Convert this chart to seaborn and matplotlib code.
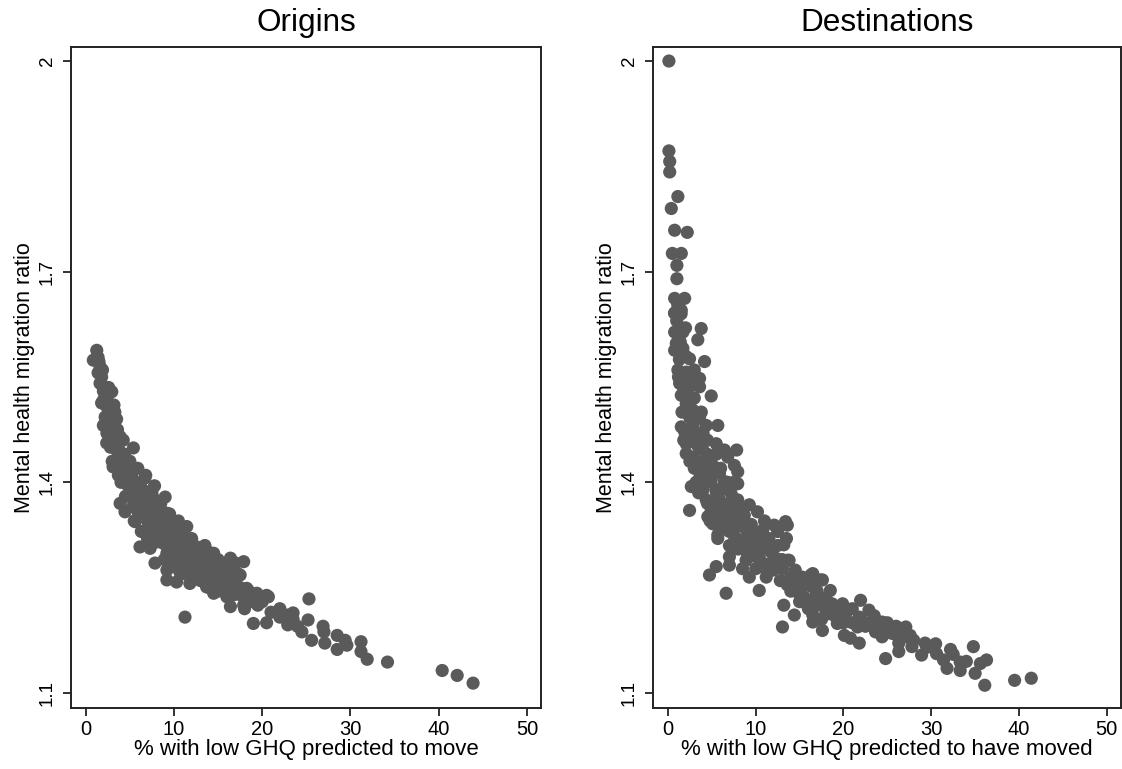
import matplotlib
matplotlib.use("Agg")
import matplotlib.pyplot as plt
import seaborn as sns
import pandas as pd

# ---------------- data ----------------
orig_x = [1.25, 0.86, 1.4, 1.62, 1.4, 1.62, 1.97, 2.95, 2.0, 1.8, 2.38, 3.3, 2.2, 2.75, 2.0, 3.1,
          2.75, 3.9, 2.38, 3.1, 4.25, 5.4, 3.5, 3.9, 3.1, 4.65, 5.9, 4.25, 5.0, 6.7, 4.65, 5.8,
          5.0, 6.5, 9.0, 7.85, 3.9, 5.6, 4.45, 5.9, 7.1, 8.4, 9.2, 5.6, 6.9, 8.05, 9.55, 11.45,
          6.5, 7.5, 9.0, 10.3, 11.0, 6.15, 7.3, 8.8, 9.9, 11.45, 12.6, 13.7, 9.2, 10.7, 12.2, 14.5,
          16.4, 17.9, 7.85, 9.55, 11.0, 12.95, 15.2, 16.7, 9.2, 10.7, 12.6, 14.5, 16.0, 17.5, 9.2,
          10.3, 11.8, 13.7, 15.2, 16.7, 18.25, 14.5, 16.0, 17.9, 20.7, 16.4, 17.9, 11.25,
          19.4, 20.5, 19.0, 20.5, 25.3, 22.0, 22.8, 23.5, 22.9, 25.2, 24.5, 25.6, 26.9, 27.0,
          27.1, 28.5, 29.4, 29.6, 28.5, 31.2, 31.2, 31.9, 34.2, 40.4, 42.1, 43.9,
          1.5, 1.8, 2.2, 2.5, 2.6, 3.0, 3.3, 3.6, 3.4, 3.8, 4.0, 4.4, 4.2, 4.8, 5.2, 5.5, 4.8,
          6.2, 6.0, 6.8, 6.5, 7.2, 7.5, 8.0, 8.5, 7.0, 9.0, 9.8, 8.3, 10.0, 10.5, 9.5, 11.3,
          12.0, 11.0, 13.0, 12.5, 13.5, 14.0, 14.8, 15.5, 16.5, 13.2, 14.2, 15.8, 17.0, 17.5,
          16.8, 18.5, 19.0, 18.0, 8.9, 10.0, 11.5, 6.0, 5.3, 7.8, 5.0, 3.5, 2.0,
          6.3, 7.0, 7.7, 8.2, 8.7, 9.3, 9.7, 10.2, 10.8, 11.5, 12.3, 13.0, 13.8, 14.5, 15.0,
          15.8, 16.2, 17.2, 12.0, 13.0, 14.0, 15.0, 16.0, 17.5, 18.5, 11.0, 10.5, 9.5, 8.0,
          7.0, 6.3, 5.5, 5.8, 4.5, 4.0, 3.7, 3.0, 2.8, 2.4, 3.2, 2.6, 1.9, 6.8, 7.5, 8.5, 9.5,
          10.5, 12.0, 13.5, 15.0, 16.0, 17.0, 19.5, 21.0, 20.0, 22.0, 23.5, 24.0]
orig_y = [1.588, 1.574, 1.578, 1.565, 1.556, 1.541, 1.536, 1.529, 1.517, 1.513, 1.508, 1.500,
          1.493, 1.489, 1.481, 1.481, 1.474, 1.465, 1.456, 1.456, 1.460, 1.449, 1.446, 1.436,
          1.422, 1.427, 1.420, 1.413, 1.408, 1.406, 1.399, 1.394, 1.385, 1.389, 1.379, 1.375,
          1.370, 1.375, 1.358, 1.360, 1.365, 1.367, 1.356, 1.344, 1.349, 1.342, 1.344, 1.337,
          1.330, 1.332, 1.328, 1.330, 1.328, 1.308, 1.306, 1.313, 1.313, 1.313, 1.308, 1.303,
          1.299, 1.299, 1.296, 1.299, 1.292, 1.287, 1.285, 1.289, 1.285, 1.285, 1.285, 1.280,
          1.275, 1.271, 1.271, 1.271, 1.271, 1.268, 1.261, 1.258, 1.256, 1.251, 1.251, 1.251,
          1.249, 1.242, 1.237, 1.242, 1.237, 1.223, 1.225, 1.208,
          1.242, 1.239, 1.199, 1.200, 1.234, 1.208, 1.211, 1.214, 1.197, 1.204, 1.187, 1.175,
          1.195, 1.187, 1.171, 1.182, 1.175, 1.168, 1.162, 1.173, 1.159, 1.148, 1.144, 1.132,
          1.125, 1.114,
          1.572, 1.550, 1.525, 1.515, 1.500, 1.490, 1.470, 1.475, 1.450, 1.445, 1.430, 1.440,
          1.420, 1.420, 1.410, 1.395, 1.395, 1.400, 1.385, 1.380, 1.370, 1.375, 1.360, 1.355,
          1.350, 1.345, 1.340, 1.335, 1.325, 1.320, 1.315, 1.305, 1.305, 1.300, 1.295, 1.295,
          1.280, 1.280, 1.290, 1.275, 1.265, 1.265, 1.265, 1.260, 1.255, 1.260, 1.250, 1.240,
          1.235, 1.230, 1.220, 1.290, 1.280, 1.275, 1.355, 1.365, 1.395, 1.430, 1.490, 1.530,
          1.375, 1.360, 1.350, 1.340, 1.335, 1.325, 1.315, 1.305, 1.310, 1.290, 1.290, 1.285,
          1.275, 1.280, 1.270, 1.275, 1.260, 1.270, 1.265, 1.260, 1.250, 1.245, 1.250, 1.240,
          1.245, 1.270, 1.290, 1.290, 1.315, 1.320, 1.330, 1.345, 1.370, 1.380, 1.400, 1.410,
          1.430, 1.450, 1.470, 1.510, 1.535, 1.560, 1.410, 1.385, 1.370, 1.355, 1.345, 1.320,
          1.310, 1.290, 1.285, 1.285, 1.225, 1.215, 1.230, 1.220, 1.205, 1.195]

dest_x = [0.11, 0.11, 0.2, 0.2, 1.13, 0.38, 0.76, 2.2, 0.5, 1.52, 1.02, 1.02, 0.76, 1.9, 1.13,
          0.76, 1.52, 1.13, 0.76, 0.76, 1.7, 3.79, 3.4, 0.95, 0.76, 1.7, 2.46, 4.17, 1.13, 2.08,
          3.6, 1.33, 2.46, 3.6, 4.93, 1.52, 2.66, 2.08, 2.84, 2.46, 3.6, 1.52, 2.84, 4.36, 5.68,
          1.9, 3.4, 2.08, 3.22, 5.5, 3.97, 6.44, 7.83, 2.08, 2.84, 6.81, 3.22, 5.1, 7.57, 4.17,
          5.87, 7.95, 3.6, 4.93, 6.44, 7.95, 2.66, 3.97, 5.5, 7.2, 4.36, 5.87, 7.95, 9.27, 2.46,
          4.93, 6.63, 10.2, 4.54, 6.06, 7.38, 8.7, 12.1, 13.4, 5.1, 7.0, 8.5, 5.68, 7.0, 9.27,
          10.8, 5.68, 8.14, 10.0, 11.5, 7.38, 9.27, 11.0, 13.2, 7.0, 8.9, 10.4, 12.3, 13.8, 5.5,
          7.0, 8.5, 10.0, 11.5, 13.05, 4.73, 9.27, 11.2, 13.8, 15.3, 16.5, 17.6, 18.5, 6.63,
          10.4, 14.6, 16.1,
          13.6, 13.6, 14.9, 16.3, 17.4, 13.6, 15.1, 16.5, 15.5, 16.8, 13.2, 15.9, 17.6, 18.7,
          19.9, 21.95, 22.9, 14.4, 16.5, 18.35, 20.25, 21.8, 13.05, 16.5, 17.6, 19.3, 21.6, 24.4,
          23.65, 25.2, 27.1, 24.4, 26.1, 20.1, 20.8, 21.8, 27.6, 26.3, 27.8, 29.3, 26.3, 24.8,
          28.9, 30.6, 32.2, 34.8, 31.4, 33.3, 31.8, 33.3, 35.6, 36.3, 35.0, 36.1, 39.5, 41.4,
          1.0, 1.4, 2.0, 1.3, 2.5, 1.8, 3.0, 2.2, 3.2, 4.0, 2.6, 3.5, 4.5, 3.0, 4.0, 5.0, 4.4,
          5.5, 6.2, 3.5, 5.0, 6.0, 7.0, 4.8, 6.5, 8.0, 9.5, 7.5, 8.8, 10.5, 9.0, 11.8, 12.5,
          10.8, 12.0, 14.5, 12.8, 15.0, 17.0, 16.0, 18.0, 19.0, 21.0, 22.5, 23.0, 25.5, 20.0,
          1.5, 2.0, 1.2, 2.0, 2.8, 3.0, 1.6, 2.6, 3.8, 1.8, 3.0, 4.5, 2.5, 4.8, 5.5, 6.0, 3.2,
          4.0, 6.8, 7.5, 4.5, 5.5, 6.8, 7.5, 8.5, 5.8, 7.0, 8.0, 9.0, 10.0, 11.0, 11.5, 9.8,
          10.5, 11.8, 13.0, 14.0, 15.5, 16.5, 14.0, 15.0, 17.0, 18.0, 17.5, 19.0, 20.0, 21.0,
          22.0, 23.5, 24.0, 25.0, 26.0, 27.0, 28.0, 29.5, 30.5, 32.5, 34.0, 12.5, 13.5, 11.0]
dest_y = [2.000, 1.872, 1.857, 1.842, 1.807, 1.790, 1.759, 1.756, 1.726, 1.726, 1.709, 1.690,
          1.662, 1.662, 1.652, 1.641, 1.645, 1.655, 1.641, 1.614, 1.614, 1.619, 1.603, 1.598,
          1.588, 1.591, 1.576, 1.572, 1.560, 1.557, 1.548, 1.541, 1.536, 1.536, 1.523, 1.524,
          1.520, 1.512, 1.503, 1.493, 1.493, 1.479, 1.481, 1.481, 1.481, 1.472, 1.470, 1.455,
          1.455, 1.455, 1.446, 1.446, 1.446, 1.441, 1.436, 1.436, 1.427, 1.424, 1.424, 1.417,
          1.413, 1.415, 1.406, 1.403, 1.401, 1.398, 1.394, 1.389, 1.386, 1.384, 1.375, 1.375,
          1.375, 1.368, 1.360, 1.360, 1.363, 1.358, 1.351, 1.351, 1.351, 1.353, 1.339, 1.344,
          1.341, 1.339, 1.337, 1.325, 1.330, 1.327, 1.332, 1.320, 1.318, 1.315, 1.320, 1.306,
          1.306, 1.306, 1.311, 1.294, 1.289, 1.294, 1.292, 1.289, 1.280, 1.282, 1.277, 1.277,
          1.280, 1.277, 1.268, 1.265, 1.265, 1.261, 1.265, 1.270, 1.261, 1.246, 1.242, 1.246,
          1.251, 1.254,
          1.339, 1.289, 1.263, 1.268, 1.261, 1.254, 1.249, 1.251, 1.237, 1.237, 1.225, 1.225,
          1.227, 1.227, 1.227, 1.232, 1.218, 1.211, 1.211, 1.213, 1.213, 1.208, 1.194, 1.201,
          1.189, 1.199, 1.194, 1.201, 1.187, 1.192, 1.194, 1.180, 1.182, 1.182, 1.178, 1.171,
          1.182, 1.171, 1.166, 1.171, 1.159, 1.149, 1.154, 1.156, 1.162, 1.166, 1.147, 1.144,
          1.135, 1.132, 1.142, 1.147, 1.128, 1.111, 1.118, 1.121,
          1.630, 1.600, 1.580, 1.575, 1.550, 1.530, 1.520, 1.500, 1.490, 1.470, 1.460, 1.450,
          1.440, 1.420, 1.430, 1.410, 1.400, 1.390, 1.390, 1.385, 1.370, 1.360, 1.370, 1.345,
          1.345, 1.340, 1.340, 1.325, 1.320, 1.310, 1.300, 1.300, 1.310, 1.285, 1.275, 1.275,
          1.260, 1.240, 1.245, 1.220, 1.215, 1.210, 1.200, 1.195, 1.200, 1.185, 1.200,
          1.640, 1.620, 1.550, 1.545, 1.540, 1.560, 1.500, 1.495, 1.500, 1.460, 1.465, 1.460,
          1.430, 1.430, 1.440, 1.420, 1.400, 1.390, 1.400, 1.400, 1.370, 1.355, 1.355, 1.365,
          1.360, 1.335, 1.310, 1.305, 1.315, 1.325, 1.320, 1.310, 1.295, 1.280, 1.285, 1.290,
          1.265, 1.255, 1.260, 1.245, 1.230, 1.225, 1.235, 1.205, 1.220, 1.215, 1.220, 1.205,
          1.210, 1.190, 1.200, 1.195, 1.180, 1.175, 1.165, 1.170, 1.155, 1.145, 1.330, 1.320,
          1.345]

panel_titles = ["Origins", "Destinations"]
x_labels = ["% with low GHQ predicted to move", "% with low GHQ predicted to have moved"]
y_label = "Mental health migration ratio"
x_ticks = [0, 10, 20, 30, 40, 50]
y_ticks = [1.1, 1.4, 1.7, 2.0]
y_tick_labels = ["1.1", "1.4", "1.7", "2"]

# ---------------- plotting ----------------
sns.set_theme(style="white")
plt.rcParams["font.family"] = ["Liberation Sans", "DejaVu Sans"]

W, H = 1122, 769
fig = plt.figure(figsize=(W / 100, H / 100), dpi=100)
fig.patch.set_facecolor("white")

ax_boxes = [
    [71 / W, (H - 708) / H, 470 / W, 661.3 / H],
    [653.3 / W, (H - 708) / H, 467.5 / W, 661.3 / H],
]
datasets = [(orig_x, orig_y), (dest_x, dest_y)]
dot_color = "#5a5a5a"

for i, ((xs, ys), box) in enumerate(zip(datasets, ax_boxes)):
    ax = fig.add_axes(box)
    df = pd.DataFrame({"x": xs, "y": ys})
    sns.scatterplot(data=df, x="x", y="y", ax=ax, color=dot_color, s=90,
                    edgecolor="none", linewidth=0, alpha=1)
    ax.set_xlim(-1.67, 51.6)
    ax.set_ylim(1.0786, 2.0204)
    ax.set_xticks(x_ticks)
    ax.set_xticklabels([str(t) for t in x_ticks], fontsize=14.5)
    ax.set_yticks(y_ticks)
    ax.set_yticklabels(y_tick_labels, fontsize=13.5, rotation=90, va="center")
    ax.tick_params(axis="both", direction="out", length=6, width=1.3, color="#222222",
                   labelcolor="black", bottom=True, left=True)
    ax.tick_params(axis="x", pad=2.5)
    ax.tick_params(axis="y", pad=5)
    for sp in ax.spines.values():
        sp.set_color("#222222")
        sp.set_linewidth(1.4)
        sp.set_visible(True)
    ax.set_xlabel(x_labels[i], fontsize=16, labelpad=0.5, color="black")
    ax.set_ylabel(y_label, fontsize=15.5, labelpad=3, color="black")
    ax.set_title(panel_titles[i], fontsize=22.7, pad=11, color="black")
    ax.grid(False)
    ax.set_facecolor("white")

fig.savefig("out.png", dpi=100, facecolor="white")
